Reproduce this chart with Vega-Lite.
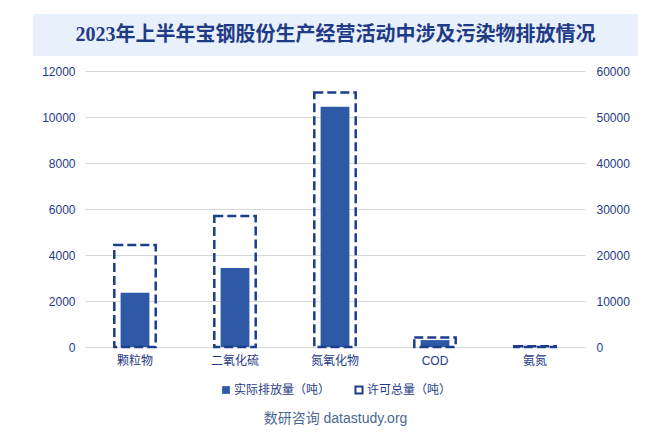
{
  "$schema": "https://vega.github.io/schema/vega-lite/v6.json",
  "background": "white",
  "padding": {"left": 33, "top": 14, "right": 10, "bottom": 4},
  "spacing": 9,
  "config": {"view": {"stroke": null}, "font": "Liberation Sans, Noto Sans CJK SC",
    "legend": {"layout": {"bottom": {"anchor": "middle", "direction": "horizontal", "margin": 22}}}},
  "title": {"text": "数研咨询 datastudy.org", "orient": "bottom", "anchor": "middle", "fontSize": 14, "fontWeight": "normal", "color": "#4a6894", "font": "Liberation Sans, Noto Sans CJK SC", "offset": 14},
  "vconcat": [
    {
      "width": 605,
      "height": 42,
      "view": {"fill": "#e8f0fb", "stroke": null},
      "data": {"values": [{"t": "2023年上半年宝钢股份生产经营活动中涉及污染物排放情况"}]},
      "mark": {"type": "text", "font": "Liberation Serif, Noto Sans CJK SC", "fontSize": 20, "fontWeight": "bold", "color": "#1f3b86"},
      "encoding": {"text": {"field": "t"}}
    },
    {
      "width": 605,
      "height": 276,
      "data": {"values": [
        {"cat": "颗粒物", "actual": 2360, "permit": 22200},
        {"cat": "二氧化硫", "actual": 3440, "permit": 28500},
        {"cat": "氮氧化物", "actual": 10450, "permit": 55300},
        {"cat": "COD", "actual": 300, "permit": 2050},
        {"cat": "氨氮", "actual": 15, "permit": 150}
      ]},
      "encoding": {
        "x": {"field": "cat", "type": "nominal", "sort": null, "title": null,
          "scale": {"range": [52, 552]},
          "axis": {"labelAngle": 0, "domain": false, "ticks": false, "labelPadding": 8, "labelFontSize": 12, "labelColor": "#1f3b86"}}
      },
      "layer": [
        {
          "mark": {"type": "bar", "width": {"band": 0.32}},
          "encoding": {
            "y": {"field": "actual", "type": "quantitative", "title": null,
              "scale": {"domain": [0, 12000]},
              "axis": {"orient": "left", "offset": -52, "format": "d", "values": [0, 2000, 4000, 6000, 8000, 10000, 12000], "domain": false, "ticks": false, "labelPadding": 10, "labelFontSize": 12, "labelColor": "#1f3b86", "grid": true, "gridColor": "#d9d9d9"}},
            "fill": {"datum": "实际排放量（吨）", "scale": {"range": ["#2e59a7"]},
              "legend": {"title": null, "orient": "bottom", "direction": "horizontal", "symbolType": "square", "symbolSize": 60, "labelFontSize": 12, "labelColor": "#1f3b86", "labelOffset": 2}}
          }
        },
        {
          "mark": {"type": "bar", "width": {"band": 0.46}, "fill": "transparent", "strokeWidth": 2.5, "strokeDash": [9, 4]},
          "encoding": {
            "y": {"field": "permit", "type": "quantitative", "title": null,
              "scale": {"domain": [0, 60000]},
              "axis": {"orient": "right", "offset": -53, "format": "d", "values": [0, 10000, 20000, 30000, 40000, 50000, 60000], "domain": false, "ticks": false, "labelPadding": 11, "labelFontSize": 12, "labelColor": "#1f3b86", "grid": false}},
            "stroke": {"datum": "许可总量（吨）", "scale": {"range": ["#1c3c8c"]},
              "legend": {"title": null, "orient": "bottom", "direction": "horizontal", "symbolType": "square", "symbolSize": 50, "symbolFillColor": "white", "symbolStrokeWidth": 2, "labelFontSize": 12, "labelColor": "#1f3b86", "labelOffset": 2}}
          }
        }
      ],
      "resolve": {"scale": {"y": "independent"}}
    }
  ]
}
